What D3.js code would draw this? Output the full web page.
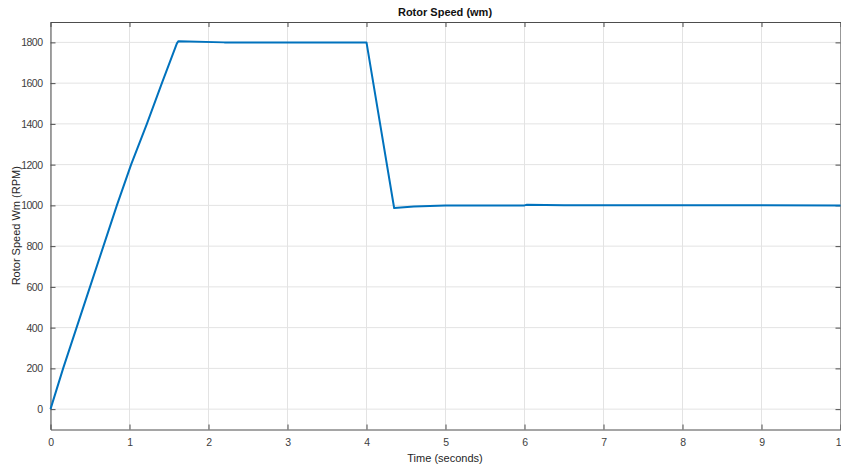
<!DOCTYPE html>
<html>
<head>
<meta charset="utf-8">
<script src="https://cdn.jsdelivr.net/npm/d3@7"></script>
<style>
    body { margin: 0; background: #fff; }
    svg { display: block; font-family: "Liberation Sans", Arial, sans-serif; }
</style>
</head>
<body>
<svg id="chart"></svg>
<script>
// Rotor speed samples
const timeSec = [0, 0.16, 0.33, 0.50, 0.67, 0.84, 1.02, 1.22, 1.41, 1.60, 1.62, 2.2, 4.0, 4.35, 4.6, 5.0, 6.0, 6.03, 6.5, 10];
const speedRpm = [0, 200, 400, 600, 800, 1000, 1200, 1400, 1600, 1795, 1806, 1800, 1800, 987, 995, 999, 1000, 1003, 1001, 1000];
const xTicks = [0, 1, 2, 3, 4, 5, 6, 7, 8, 9, 10];
const yTicks = [0, 200, 400, 600, 800, 1000, 1200, 1400, 1600, 1800];

const width = 841, height = 466;
const margin = {left: 50.5, right: 0.5, top: 22, bottom: 36.5};

const data = timeSec.map((t, i) => ({t: t, v: speedRpm[i]}));

const svg = d3.select("#chart")
              .attr("width", width)
              .attr("height", height);

const x = d3.scaleLinear().domain([0, 10]).range([margin.left, width - margin.right]);
const y = d3.scaleLinear().domain([-100, 1900]).range([height - margin.bottom, margin.top]);

const axisColor = "#4d4d4d";
const gridColor = "#e3e3e3";

// Grid lines
svg.append("g")
   .selectAll("line")
   .data(xTicks)
   .join("line")
   .attr("x1", d => x(d)).attr("x2", d => x(d))
   .attr("y1", y.range()[1]).attr("y2", y.range()[0])
   .attr("stroke", gridColor);

svg.append("g")
   .selectAll("line")
   .data(yTicks)
   .join("line")
   .attr("x1", x.range()[0]).attr("x2", x.range()[1])
   .attr("y1", d => y(d)).attr("y2", d => y(d))
   .attr("stroke", gridColor);

// Axes with inward ticks on all four sides
const styleAxis = g => {
    g.select(".domain").attr("stroke", axisColor);
    g.selectAll(".tick line").attr("stroke", axisColor);
    g.selectAll(".tick text")
     .attr("fill", "#404040")
     .style("font-size", "10.5px")
     .style("letter-spacing", "-0.5px");
};

svg.append("g")
   .attr("transform", `translate(0,${y.range()[0]})`)
   .call(d3.axisBottom(x).tickValues(xTicks).tickFormat(d3.format("d"))
           .tickSizeInner(-5).tickSizeOuter(0).tickPadding(9))
   .call(styleAxis);

svg.append("g")
   .attr("transform", `translate(0,${y.range()[1]})`)
   .call(d3.axisTop(x).tickValues(xTicks).tickSizeInner(-5).tickSizeOuter(0).tickFormat(""))
   .call(styleAxis);

svg.append("g")
   .attr("transform", `translate(${x.range()[0]},0)`)
   .call(d3.axisLeft(y).tickValues(yTicks).tickFormat(d3.format("d"))
           .tickSizeInner(-5).tickSizeOuter(0).tickPadding(8))
   .call(styleAxis);

svg.append("g")
   .attr("transform", `translate(${x.range()[1]},0)`)
   .call(d3.axisRight(y).tickValues(yTicks).tickSizeInner(-5).tickSizeOuter(0).tickFormat(""))
   .call(styleAxis);

// Speed curve
const line = d3.line().x(d => x(d.t)).y(d => y(d.v));

svg.append("path")
   .datum(data)
   .attr("fill", "none")
   .attr("stroke", "#0072BD")
   .attr("stroke-width", 2)
   .attr("stroke-linejoin", "round")
   .attr("d", line);

// Labels
svg.append("text")
   .attr("x", 445).attr("y", 16)
   .attr("text-anchor", "middle")
   .style("font-size", "11px")
   .style("font-weight", "bold")
   .attr("fill", "#111")
   .text("Rotor Speed (wm)");

svg.append("text")
   .attr("x", 445).attr("y", 462)
   .attr("text-anchor", "middle")
   .style("font-size", "11px")
   .attr("fill", "#262626")
   .text("Time (seconds)");

svg.append("text")
   .attr("transform", `translate(20,${(y.range()[0] + y.range()[1]) / 2}) rotate(-90)`)
   .attr("text-anchor", "middle")
   .style("font-size", "11px")
   .attr("fill", "#262626")
   .text("Rotor Speed Wm (RPM)");
</script>
</body>
</html>
